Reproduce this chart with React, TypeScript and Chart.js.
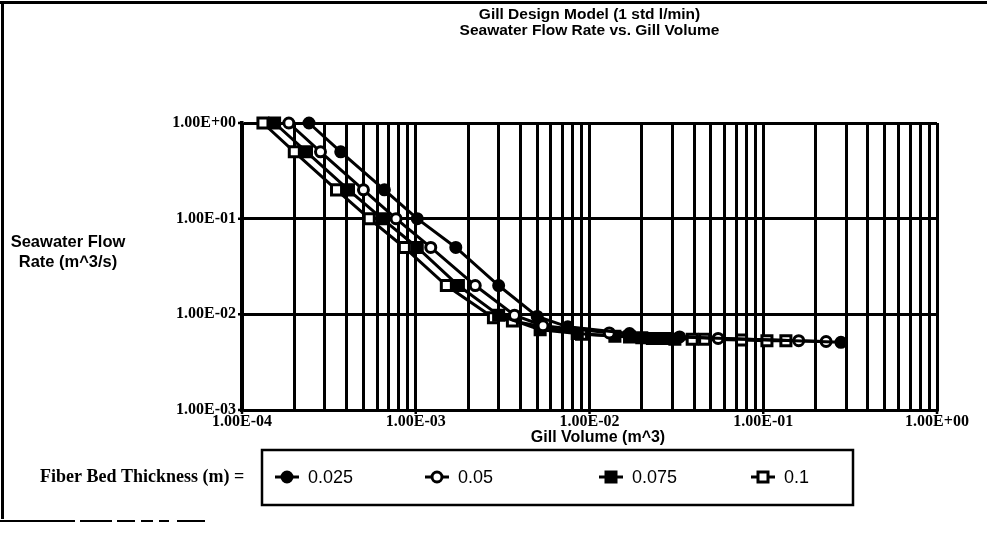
import React, { useEffect, useRef } from 'react';
import { Chart, registerables } from 'chart.js';

Chart.register(...registerables);

// ---- data ----
const seriesLabels = ['0.025', '0.05', '0.075', '0.1'];

const volume0025 = [2.43e-4, 3.7e-4, 6.6e-4, 1.02e-3, 1.7e-3, 3.0e-3, 5.0e-3, 7.5e-3, 1.7e-2, 3.3e-2, 2.8e-1];
const flow0025 = [1.0, 0.5, 0.2, 0.1, 0.05, 0.02, 0.0095, 0.0074, 0.0063, 0.0058, 0.0051];

const volume005 = [1.86e-4, 2.83e-4, 5.0e-4, 7.7e-4, 1.22e-3, 2.2e-3, 3.7e-3, 5.4e-3, 1.3e-2, 5.5e-2, 1.6e-1, 2.3e-1];
const flow005 = [1.0, 0.5, 0.2, 0.1, 0.05, 0.02, 0.0098, 0.0076, 0.0064, 0.0056, 0.0053, 0.0052];

const volume0075 = [1.54e-4, 2.35e-4, 4.1e-4, 6.4e-4, 1.02e-3, 1.76e-3, 3.0e-3, 5.2e-3, 8.5e-3, 1.4e-2, 1.7e-2, 2.0e-2, 2.3e-2, 2.7e-2, 3.1e-2];
const flow0075 = [1.0, 0.5, 0.2, 0.1, 0.05, 0.02, 0.0098, 0.0069, 0.0063, 0.0059, 0.0058, 0.0057, 0.0056, 0.0056, 0.0055];

const volume01 = [1.32e-4, 2.0e-4, 3.5e-4, 5.4e-4, 8.6e-4, 1.5e-3, 2.8e-3, 3.6e-3, 9.0e-3, 3.9e-2, 4.6e-2, 7.5e-2, 1.05e-1, 1.35e-1];
const flow01 = [1.0, 0.5, 0.2, 0.1, 0.05, 0.02, 0.0092, 0.0085, 0.0062, 0.0055, 0.0055, 0.0054, 0.0053, 0.0053];

const xDecades = [1e-4, 1e-3, 1e-2, 1e-1, 1];
const xTickLabels = ['1.00E-04', '1.00E-03', '1.00E-02', '1.00E-01', '1.00E+00'];
const xMinorSteps = [2, 3, 4, 5, 6, 7, 8, 9];
const yDecades = [1e-3, 1e-2, 1e-1, 1];
const yTickLabels = ['1.00E-03', '1.00E-02', '1.00E-01', '1.00E+00'];

const titleLines = ['Gill Design Model (1 std l/min)', 'Seawater Flow Rate vs. Gill Volume'];
const yTitleLines = ['Seawater Flow', 'Rate (m^3/s)'];
const xTitle = 'Gill Volume (m^3)';
const legendTitle = 'Fiber Bed Thickness (m) =';

// ---- helpers ----
const zip = (xs: number[], ys: number[]) => xs.map((x, i) => ({ x, y: ys[i] }));

type MarkerKind = { style: 'circle' | 'rect'; fill: string };
const markers: MarkerKind[] = [
  { style: 'circle', fill: '#000' },
  { style: 'circle', fill: '#fff' },
  { style: 'rect', fill: '#000' },
  { style: 'rect', fill: '#fff' },
];

const xTickObjs: { value: number; major: boolean; label: string }[] = [];
xDecades.forEach((d, i) => {
  xTickObjs.push({ value: d, major: true, label: xTickLabels[i] });
  if (i < xDecades.length - 1) xMinorSteps.forEach((k) => xTickObjs.push({ value: k * d, major: false, label: '' }));
});
xTickObjs.sort((a, b) => a.value - b.value);

const SANS = '"Liberation Sans"';
const SERIF = '"Liberation Serif"';

function drawMarker(ctx: CanvasRenderingContext2D, kind: MarkerKind, x: number, y: number) {
  ctx.save();
  ctx.fillStyle = kind.fill;
  ctx.strokeStyle = '#000';
  ctx.lineWidth = 3;
  ctx.beginPath();
  if (kind.style === 'circle') ctx.arc(x, y, 5, 0, Math.PI * 2);
  else ctx.rect(x - 5, y - 5, 10, 10);
  ctx.fill();
  ctx.stroke();
  ctx.restore();
}

const decorPlugin = {
  id: 'decor',
  beforeDraw(chart: any) {
    const ctx = chart.ctx as CanvasRenderingContext2D;
    ctx.save();
    ctx.fillStyle = '#fff';
    ctx.fillRect(0, 0, chart.width, chart.height);
    ctx.restore();
  },
  afterDraw(chart: any) {
    const ctx = chart.ctx as CanvasRenderingContext2D;
    const xs = chart.scales.x;
    const ys = chart.scales.y;
    const area = chart.chartArea;
    ctx.save();
    ctx.strokeStyle = '#000';
    ctx.fillStyle = '#000';

    // outer frame
    ctx.lineWidth = 3;
    ctx.beginPath();
    ctx.moveTo(0, 2.5);
    ctx.lineTo(chart.width, 2.5);
    ctx.moveTo(2.5, 2.5);
    ctx.lineTo(2.5, 519);
    ctx.stroke();
    ctx.lineWidth = 2;
    ctx.setLineDash([75, 5, 32, 5, 18, 6, 12, 6, 10, 8]);
    ctx.beginPath();
    ctx.moveTo(0, 521);
    ctx.lineTo(205, 521);
    ctx.stroke();
    ctx.setLineDash([]);

    // major tick marks
    ctx.lineWidth = 2.5;
    ctx.beginPath();
    xDecades.forEach((d) => {
      const px = xs.getPixelForValue(d);
      ctx.moveTo(px, area.bottom);
      ctx.lineTo(px, area.bottom + 4);
    });
    yDecades.forEach((d) => {
      const py = ys.getPixelForValue(d);
      ctx.moveTo(area.left - 4, py);
      ctx.lineTo(area.left, py);
    });
    ctx.stroke();

    // title
    const midX = (area.left + area.right) / 2;
    ctx.textAlign = 'center';
    ctx.textBaseline = 'middle';
    ctx.font = `bold 15.5px ${SANS}`;
    ctx.fillText(titleLines[0], midX, 15);
    ctx.fillText(titleLines[1], midX, 31);

    // y title
    ctx.font = `bold 16.5px ${SANS}`;
    ctx.fillText(yTitleLines[0], 68, 242);
    ctx.fillText(yTitleLines[1], 68, 262);

    // x title
    ctx.font = `bold 16px ${SANS}`;
    ctx.fillText(xTitle, 598, 438);

    // legend caption
    ctx.textAlign = 'left';
    ctx.font = `bold 18px ${SERIF}`;
    ctx.fillText(legendTitle, 40, 477);

    // legend box
    ctx.lineWidth = 2.5;
    ctx.fillStyle = '#fff';
    ctx.fillRect(262, 450, 591, 55);
    ctx.strokeRect(262, 450, 591, 55);
    const markerX = [287, 437, 611, 763];
    const textX = [308, 458, 632, 784];
    ctx.font = `18px ${SANS}`;
    chart.data.datasets.forEach((ds: any, i: number) => {
      const cx = markerX[i];
      const cy = 477;
      ctx.strokeStyle = '#000';
      ctx.lineWidth = 3;
      ctx.beginPath();
      ctx.moveTo(cx - 12, cy);
      ctx.lineTo(cx + 12, cy);
      ctx.stroke();
      drawMarker(ctx, markers[i], cx, cy);
      ctx.fillStyle = '#000';
      ctx.textAlign = 'left';
      ctx.fillText(ds.label, textX[i], cy + 1);
    });
    ctx.restore();
  },
};

export default function App() {
  const canvasRef = useRef<HTMLCanvasElement | null>(null);

  useEffect(() => {
    document.body.style.margin = '0';
    const canvas = canvasRef.current;
    if (!canvas) return;

    const seriesData = [
      zip(volume0025, flow0025),
      zip(volume005, flow005),
      zip(volume0075, flow0075),
      zip(volume01, flow01),
    ];

    const datasets = seriesData.map((data, i) => ({
      label: seriesLabels[i],
      data,
      showLine: true,
      borderColor: '#000',
      borderWidth: 3,
      pointStyle: markers[i].style,
      pointRadius: markers[i].style === 'rect' ? 7.1 : 5,
      pointBackgroundColor: markers[i].fill,
      pointBorderColor: '#000',
      pointBorderWidth: 3,
      clip: false as any,
      tension: 0,
    }));

    const chart = new Chart(canvas, {
      type: 'line',
      data: { datasets },
      plugins: [decorPlugin],
      options: {
        responsive: false,
        animation: false,
        layout: { padding: { left: 0, top: 123, right: 50, bottom: 0 } },
        plugins: {
          legend: { display: false },
          title: { display: false },
          tooltip: { enabled: false },
        },
        scales: {
          x: {
            type: 'logarithmic',
            min: 1e-4,
            max: 1,
            afterBuildTicks: (scale: any) => {
              scale.ticks = xTickObjs.map((t) => ({ value: t.value }));
            },
            afterFit: (scale: any) => {
              scale.height = 129;
              scale.paddingLeft = 0;
              scale.paddingRight = 0;
            },
            ticks: {
              autoSkip: false,
              maxRotation: 0,
              minRotation: 0,
              padding: 2,
              color: '#000',
              font: { family: 'Liberation Serif', size: 16, weight: 'bold' },
              callback: (value: any) => {
                const t = xTickObjs.find((o) => Math.abs(o.value - Number(value)) / o.value < 1e-6);
                return t && t.major ? t.label : '';
              },
            },
            grid: { color: '#000', lineWidth: 3, drawTicks: false },
            border: { display: true, color: '#000', width: 2.5 },
          },
          y: {
            type: 'logarithmic',
            min: 1e-3,
            max: 1,
            afterBuildTicks: (scale: any) => {
              scale.ticks = yDecades.map((v) => ({ value: v }));
            },
            afterFit: (scale: any) => {
              scale.width = 242;
              scale.paddingTop = 0;
              scale.paddingBottom = 0;
            },
            ticks: {
              autoSkip: false,
              padding: 6,
              color: '#000',
              font: { family: 'Liberation Serif', size: 16, weight: 'bold' },
              callback: (value: any) => {
                const idx = yDecades.findIndex((d) => Math.abs(d - Number(value)) / d < 1e-6);
                return idx >= 0 ? yTickLabels[idx] : '';
              },
            },
            grid: { color: '#000', lineWidth: 3, drawTicks: false },
            border: { display: true, color: '#000', width: 3.5 },
          },
        },
      } as any,
    });

    return () => chart.destroy();
  }, []);

  return (
    <div style={{ width: 987, height: 539 }}>
      <canvas ref={canvasRef} width={987} height={539} style={{ display: 'block' }} />
    </div>
  );
}
